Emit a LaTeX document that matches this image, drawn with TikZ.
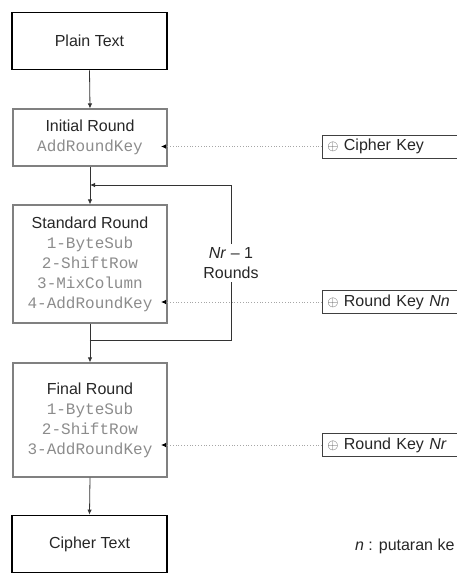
\documentclass[tikz,border=0pt]{standalone}
\usepackage{fontspec}
\setmainfont{Liberation Sans}
\setsansfont{Liberation Sans}
\setmonofont{Liberation Mono}
\usetikzlibrary{arrows.meta, positioning}

\tikzset{
  endbox/.style={draw=black, line width=1.8pt, minimum width=155pt, minimum height=57pt,
                 font=\fontsize{16}{20}\selectfont, text=black!85},
  roundbox/.style={draw=black!50, line width=1.2pt, minimum width=154pt, align=center,
                   font=\fontsize{16}{20}\selectfont, text=black!85},
  keybox/.style={draw=black!75, line width=0.8pt, anchor=west, minimum width=150pt,
                 minimum height=23pt, inner xsep=3pt, text width=140pt,
                 font=\fontsize{16}{18}\selectfont, text=black!85},
  flow/.style={-{Latex[length=5pt,width=4.5pt]}, line width=0.8pt, black!80},
  keyline/.style={dotted, black!35, line width=0.8pt, -{Latex[length=5pt,width=4.5pt,black]}},
}
\newcommand{\opname}[1]{{\ttfamily\color{black!45}#1}}
\newcommand{\xorsign}{{\fontsize{15}{15}\selectfont\color{black!70}$\oplus$}}

\begin{document}
\begin{tikzpicture}[x=1pt, y=-1pt]
    \useasboundingbox (0,0) rectangle (457,574);
    \clip (0,0) rectangle (457,574);

    % main column
    \node[endbox] (plain) at (89.5,41) {Plain Text};
    \node[roundbox, minimum height=57pt] (init) at (90,137.5)
      {Initial Round\\\opname{AddRoundKey}};
    \node[roundbox, minimum height=118pt] (std) at (90,264)
      {Standard Round\\\opname{1-ByteSub}\\\opname{2-ShiftRow}\\\opname{3-MixColumn}\\\opname{4-AddRoundKey}};
    \node[roundbox, minimum height=114pt] (final) at (90,420)
      {Final Round\\\opname{1-ByteSub}\\\opname{2-ShiftRow}\\\opname{3-AddRoundKey}};
    \node[endbox] (cipher) at (89.5,544) {Cipher Text};

    \draw[flow] (plain.south) -- (init.north);
    \draw[flow] (init.south) -- (std.north);
    \draw[flow] (std.south) -- (final.north);
    \draw[flow] (final.south) -- (cipher.north);

    % loop for the standard rounds
    \coordinate (loopout) at (89.5,340);
    \coordinate (loopin) at (90,185);
    \node[align=center, inner ysep=3pt, font=\fontsize{16}{20}\selectfont, text=black!85]
      (rounds) at (231,263) {\textit{Nr} -- 1\\Rounds};
    \draw[line width=0.8pt, black!80] (loopout) -| (rounds.south);
    \draw[flow] (rounds.north) |- (loopin);

    % round keys
    \node[keybox] (ckey) at (322,146.5) {\xorsign\ Cipher Key};
    \node[keybox] (nnkey) at (322,302) {\xorsign\ Round Key \textit{Nn}};
    \node[keybox] (nrkey) at (322,445) {\xorsign\ Round Key \textit{Nr}};

    \coordinate (initk) at (161,146.5);
    \coordinate (stdk) at (161,302);
    \coordinate (finalk) at (161,445);
    \draw[keyline] (ckey.west) -- (initk);
    \draw[keyline] (nnkey.west) -- (stdk);
    \draw[keyline] (nrkey.west) -- (finalk);

    \node[anchor=east, font=\fontsize{16}{20}\selectfont, text=black!85]
      (note) at (458,546) {\textit{n} : putaran ke};
\end{tikzpicture}
\end{document}
